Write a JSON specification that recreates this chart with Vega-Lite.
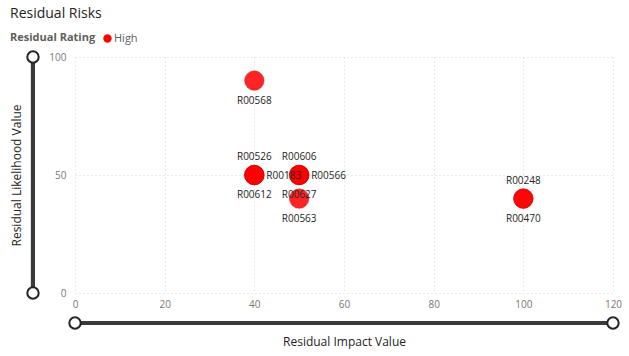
{
  "$schema": "https://vega.github.io/schema/vega-lite/v6.json",
  "width": 538,
  "height": 236,
  "autosize": {"type": "none"},
  "padding": {"left": 75, "top": 57, "right": 16, "bottom": 63},
  "background": "#ffffff",
  "config": {
    "font": "Open Sans",
    "view": {"stroke": null},
    "axis": {"labelFont": "Open Sans", "titleFont": "Open Sans"}
  },
  "title": {
    "text": "Residual Risks",
    "anchor": "start",
    "frame": "group",
    "dx": -65,
    "offset": 12,
    "fontSize": 14,
    "fontWeight": "normal",
    "color": "#252423",
    "font": "Open Sans"
  },
  "data": {
    "values": [
      {"id": "R00568", "impact": 40, "likelihood": 90, "rating": "High"},
      {"id": "R00526", "impact": 40, "likelihood": 50, "rating": "High"},
      {"id": "R00612", "impact": 40, "likelihood": 50, "rating": "High"},
      {"id": "R00183", "impact": 40, "likelihood": 50, "rating": "High"},
      {"id": "R00606", "impact": 50, "likelihood": 50, "rating": "High"},
      {"id": "R00627", "impact": 50, "likelihood": 50, "rating": "High"},
      {"id": "R00566", "impact": 50, "likelihood": 50, "rating": "High"},
      {"id": "R00563", "impact": 50, "likelihood": 40, "rating": "High"},
      {"id": "R00248", "impact": 100, "likelihood": 40, "rating": "High"},
      {"id": "R00470", "impact": 100, "likelihood": 40, "rating": "High"}
    ]
  },
  "layer": [
    {
      "mark": {"type": "point", "filled": true, "size": 380, "opacity": 0.85, "stroke": "#c00000", "strokeWidth": 1, "strokeOpacity": 0.5},
      "encoding": {
        "x": {
          "field": "impact", "type": "quantitative",
          "scale": {"domain": [0, 120], "nice": false, "zero": true},
          "axis": {
            "title": "Residual Impact Value",
            "values": [0, 20, 40, 60, 80, 100, 120],
            "ticks": false, "domain": false, "labelFlush": false,
            "labelPadding": 6, "labelFontSize": 10, "labelColor": "#777777",
            "grid": true, "gridDash": [1, 3], "gridColor": "#d4d4d4",
            "titleFontSize": 12, "titleColor": "#252423", "titleFontWeight": "normal",
            "titlePadding": 27
          }
        },
        "y": {
          "field": "likelihood", "type": "quantitative",
          "scale": {"domain": [0, 100], "nice": false},
          "axis": {
            "title": "Residual Likelihood Value",
            "values": [0, 50, 100],
            "ticks": false, "domain": false, "labelFlush": false,
            "labelPadding": 9, "labelFontSize": 10, "labelColor": "#777777",
            "grid": true, "gridDash": [1, 3], "gridColor": "#d4d4d4",
            "titleFontSize": 12, "titleColor": "#252423", "titleFontWeight": "normal",
            "titlePadding": 25
          }
        },
        "color": {
          "field": "rating", "type": "nominal",
          "scale": {"domain": ["High"], "range": ["#ff0000"]},
          "legend": {
            "title": "Residual Rating",
            "orient": "none",
            "legendX": -65,
            "legendY": -24,
            "direction": "horizontal",
            "titleOrient": "left",
            "titleFontSize": 11,
            "titleFontWeight": "bold",
            "titleColor": "#605e5c",
            "titlePadding": 6,
            "labelFontSize": 11,
            "labelColor": "#605e5c",
            "symbolSize": 70,
            "symbolType": "circle",
            "symbolOpacity": 1,
            "symbolStrokeWidth": 0,
            "labelOffset": 1
          }
        }
      }
    },
    {
      "transform": [{"filter": {"field": "id", "oneOf": ["R00526", "R00606", "R00248"]}}],
      "mark": {"type": "text", "fontSize": 10, "color": "#252423", "dy": -18, "baseline": "middle"},
      "encoding": {
        "x": {"field": "impact", "type": "quantitative"},
        "y": {"field": "likelihood", "type": "quantitative"},
        "text": {"field": "id"}
      }
    },
    {
      "transform": [{"filter": {"field": "id", "oneOf": ["R00568", "R00612", "R00627", "R00563", "R00470"]}}],
      "mark": {"type": "text", "fontSize": 10, "color": "#252423", "dy": 20, "baseline": "middle"},
      "encoding": {
        "x": {"field": "impact", "type": "quantitative"},
        "y": {"field": "likelihood", "type": "quantitative"},
        "text": {"field": "id"}
      }
    },
    {
      "transform": [{"filter": {"field": "id", "oneOf": ["R00183", "R00566"]}}],
      "mark": {"type": "text", "fontSize": 10, "color": "#252423", "dx": 12, "dy": 1, "align": "left", "baseline": "middle"},
      "encoding": {
        "x": {"field": "impact", "type": "quantitative"},
        "y": {"field": "likelihood", "type": "quantitative"},
        "text": {"field": "id"}
      }
    },
    {
      "mark": {"type": "rule", "color": "#3b3a39", "strokeWidth": 4},
      "encoding": {
        "x": {"datum": -9.37},
        "y": {"datum": 0},
        "y2": {"datum": 100}
      }
    },
    {
      "mark": {"type": "rule", "color": "#3b3a39", "strokeWidth": 4},
      "encoding": {
        "y": {"datum": -12.7},
        "x": {"datum": 0},
        "x2": {"datum": 120}
      }
    },
    {
      "data": {"values": [{"end": 0}, {"end": 100}]},
      "mark": {"type": "point", "filled": true, "fill": "#ffffff", "stroke": "#252423", "strokeWidth": 2, "size": 130, "opacity": 1},
      "encoding": {
        "x": {"datum": -9.37},
        "y": {"field": "end", "type": "quantitative"}
      }
    },
    {
      "data": {"values": [{"end": 0}, {"end": 120}]},
      "mark": {"type": "point", "filled": true, "fill": "#ffffff", "stroke": "#252423", "strokeWidth": 2, "size": 130, "opacity": 1},
      "encoding": {
        "y": {"datum": -12.7},
        "x": {"field": "end", "type": "quantitative"}
      }
    }
  ]
}
